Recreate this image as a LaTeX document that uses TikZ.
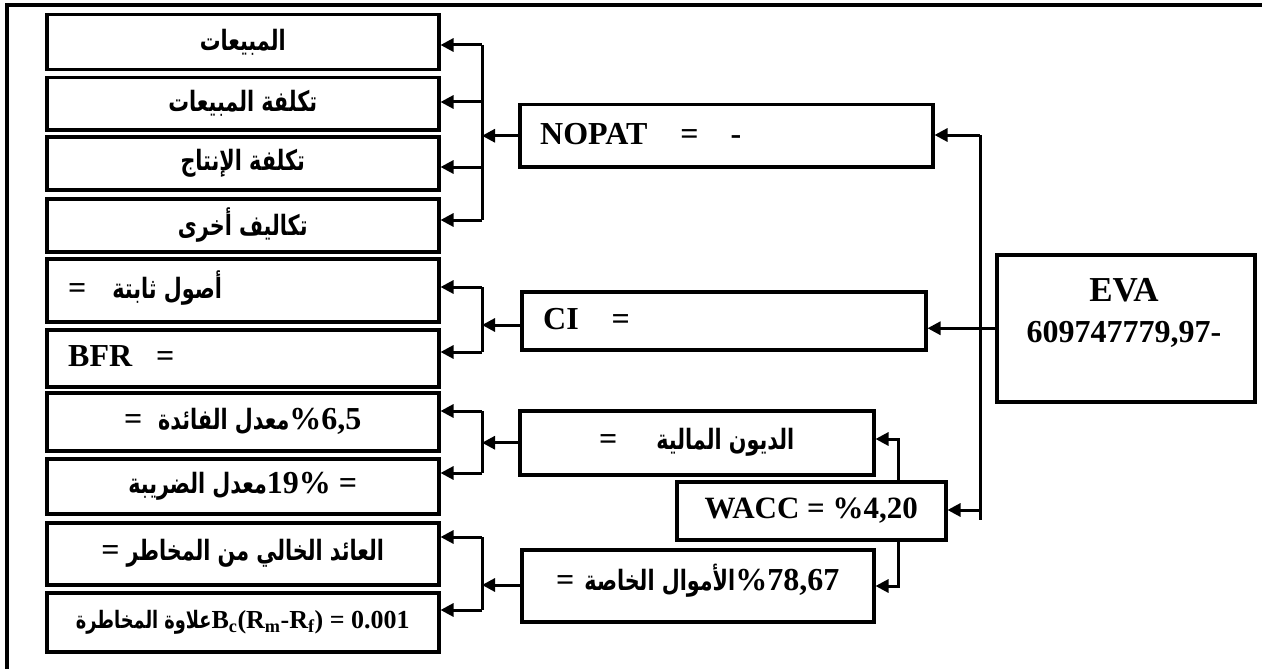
\documentclass[tikz,border=0pt]{standalone}
\usepackage{fontspec}
\setmainfont{Liberation Serif}
\newfontfamily\arfont[Script=Arabic,FakeStretch=0.74]{DejaVu Sans}
\TeXXeTstate=1
\usetikzlibrary{arrows.meta}
\newcommand{\AR}[2][28]{{\arfont\bfseries\fontsize{#1}{#1}\selectfont\beginR #2\endR}}
\newcommand{\fsz}[1]{\fontsize{#1}{#1}\selectfont}
\begin{document}
\begin{tikzpicture}[x=1pt,y=-1pt,
  box/.style={draw, line width=3.5pt, inner sep=0pt, anchor=north west, font=\bfseries\fsz{32}},
  lbl/.style={inner sep=0pt, anchor=west, font=\bfseries\fsz{32}},
  ln/.style={line width=3pt},
  arr/.style={line width=3pt, -{Triangle[length=13pt,width=13pt]}}]
\useasboundingbox (0,0) rectangle (1262,669);
% frame
\draw[line width=3.5pt] (7,669) -- (7,5) -- (1262,5);
% left column
\node[box, minimum width=392pt, minimum height=55pt] (b1) at (45,13) {\AR{المبيعات}};
\node[box, minimum width=392pt, minimum height=52pt] (b2) at (45,76) {\AR{تكلفة المبيعات}};
\node[box, minimum width=392pt, minimum height=53pt] (b3) at (45,135) {\AR{تكلفة الإنتاج}};
\node[box, minimum width=392pt, minimum height=53pt] (b4) at (45,197) {\AR{تكاليف أخرى}};
\node[box, minimum width=392pt, minimum height=63pt] (b5) at (45,257) {};
\node[lbl] (t5) at (68,288) {=\hspace{26pt}\AR{أصول ثابتة}};
\node[box, minimum width=392pt, minimum height=57pt] (b6) at (45,328) {};
\node[lbl] (t6) at (68,356) {BFR\hspace{24pt}=};
\node[box, minimum width=392pt, minimum height=58pt] (b7) at (45,391) {=\hspace{16pt}\AR{معدل الفائدة}\%6,5};
\node[box, minimum width=392pt, minimum height=55pt] (b8) at (45,457) {\AR{معدل الضريبة}19\% =};
\node[box, minimum width=392pt, minimum height=62pt] (b9) at (45,521) {=\hspace{7pt}\AR{العائد الخالي من المخاطر}};
\node[box, minimum width=392pt, minimum height=59pt, font=\bfseries\fsz{26}] (b10) at (45,591) {\AR[24]{علاوة المخاطرة}B\textsubscript{c}(R\textsubscript{m}-R\textsubscript{f}) = 0.001};
% middle column
\node[box, minimum width=413pt, minimum height=62pt] (nopat) at (518,103) {};
\node[lbl] (tn) at (540,134) {NOPAT\hspace{33pt}=\hspace{32pt}-};
\node[box, minimum width=404pt, minimum height=58pt] (ci) at (520,290) {};
\node[lbl] (tc) at (543,319) {CI\hspace{33pt}=};
\node[box, minimum width=354pt, minimum height=64pt] (dette) at (518,409) {=\hspace{39pt}\AR{الديون المالية}};
\node[box, minimum width=269pt, minimum height=58pt, font=\bfseries\fsz{31}] (wacc) at (675,480) {WACC = \%4,20};
\node[box, minimum width=352pt, minimum height=72pt, text depth=16pt] (own) at (520,548) {=\hspace{10pt}\AR{الأموال الخاصة}\%78,67};
% EVA
\node[box, minimum width=258pt, minimum height=147pt] (eva) at (995,253) {};
\node[inner sep=0pt, font=\bfseries\fsz{35}] (teva1) at (1124,290) {EVA};
\node[inner sep=0pt, font=\bfseries\fsz{32}] (teva2) at (1124,334) {609747779,97-};
% brackets left
\coordinate (n1) at (482,45);
\coordinate (n2) at (482,102);
\coordinate (n3) at (482,167);
\coordinate (n4) at (482,220);
\draw[ln] (n1) -- (n4);
\draw[arr] (n1) -- (n1 -| b1.east);
\draw[arr] (n2) -- (n2 -| b2.east);
\draw[arr] (n3) -- (n3 -| b3.east);
\draw[arr] (n4) -- (n4 -| b4.east);
\draw[arr] (nopat.west) -- (nopat.west -| n1);
\coordinate (c1) at (482,287);
\coordinate (c2) at (482,352);
\coordinate (c0) at (482,325);
\draw[ln] (c1) -- (c2);
\draw[arr] (c1) -- (c1 -| b5.east);
\draw[arr] (c2) -- (c2 -| b6.east);
\draw[arr] (c0 -| ci.west) -- (c0);
\coordinate (d1) at (482,411);
\coordinate (d2) at (482,473);
\draw[ln] (d1) -- (d2);
\draw[arr] (d1) -- (d1 -| b7.east);
\draw[arr] (d2) -- (d2 -| b8.east);
\draw[arr] (dette.west) -- (dette.west -| d1);
\coordinate (o1) at (482,537);
\coordinate (o2) at (482,610);
\coordinate (o0) at (482,585);
\draw[ln] (o1) -- (o2);
\draw[arr] (o1) -- (o1 -| b9.east);
\draw[arr] (o2) -- (o2 -| b10.east);
\draw[arr] (o0 -| own.west) -- (o0);
% main vertical from EVA
\coordinate (m1) at (980,135);
\coordinate (m2) at (980,520);
\coordinate (m3) at (980,510);
\draw[ln] (m1) -- (m2);
\draw[arr] (m1) -- (m1 -| nopat.east);
\draw[arr] (eva.west) -- (eva.west -| ci.east);
\draw[arr] (m3) -- (m3 -| wacc.east);
% WACC sub connector
\coordinate (w1) at (898,439);
\coordinate (w2) at (898,586);
\draw[arr] (wacc.north -| w1) -- (w1) -- (w1 -| dette.east);
\draw[arr] (wacc.south -| w2) -- (w2) -- (w2 -| own.east);
\end{tikzpicture}
\end{document}
